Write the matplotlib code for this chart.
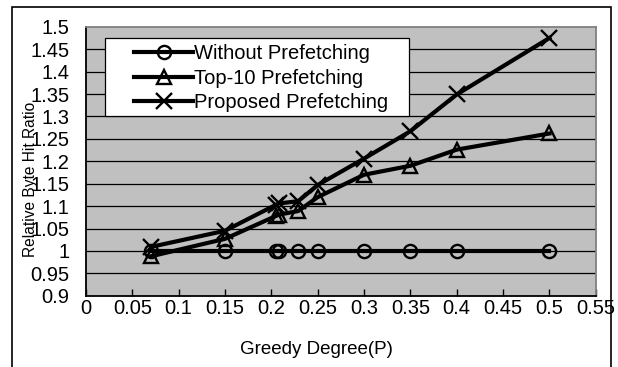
import numpy as np
import matplotlib
matplotlib.use("Agg")
import matplotlib.pyplot as plt
from matplotlib.patches import Rectangle

plt.rcParams['font.family'] = ['Liberation Sans Narrow', 'Liberation Sans', 'DejaVu Sans']

# datos
greedy = [0.07, 0.15, 0.205, 0.208, 0.229, 0.25, 0.3, 0.35, 0.4, 0.5]
without_pf = [1.0, 1.0, 1.0, 1.0, 1.0, 1.0, 1.0, 1.0, 1.0, 1.0]
top10_pf = [0.988, 1.027, 1.078, 1.081, 1.089, 1.12, 1.17, 1.19, 1.226, 1.262]
proposed_pf = [1.009, 1.045, 1.103, 1.106, 1.111, 1.147, 1.206, 1.267, 1.349, 1.475]

xticks = np.arange(0, 0.5501, 0.05)
yticks = np.arange(0.9, 1.5001, 0.05)

fig = plt.figure(figsize=(6.18, 3.67), dpi=100)
ax = fig.add_axes([0.139, 0.194, 0.825, 0.733])
ax.set_facecolor('#C0C0C0')

# borde exterior de la figura
fig.patches.append(Rectangle((12 / 618, -0.05), 599 / 618, 1.05 - 7 / 367,
                             transform=fig.transFigure, fill=False,
                             edgecolor='black', linewidth=1.2))

for yv in yticks[1:-1]:
    ax.axhline(yv, color='black', linewidth=0.9, zorder=1)

ax.plot(greedy, without_pf, color='black', linewidth=3, marker='o',
        markersize=9.5, markerfacecolor='none', markeredgewidth=1.7,
        label='Without Prefetching', zorder=3)
ax.plot(greedy, top10_pf, color='black', linewidth=3, marker='^',
        markersize=9.5, markerfacecolor='none', markeredgewidth=1.7,
        label='Top-10 Prefetching', zorder=3)
ax.plot(greedy, proposed_pf, color='black', linewidth=3, marker='x',
        markersize=12, markeredgewidth=1.7,
        label='Proposed Prefetching', zorder=3)

ax.set_xlim(0, 0.55)
ax.set_ylim(0.9, 1.5)
ax.set_xticks(xticks)
ax.set_xticklabels(['0' if v == 0 else f"{v:g}" for v in np.round(xticks, 2)])
ax.set_yticks(yticks)
ax.set_yticklabels([f"{v:g}" for v in np.round(yticks, 2)])
ax.tick_params(axis='x', direction='in', length=5, width=1, labelsize=14.5, pad=2.5)
ax.tick_params(axis='y', length=0, labelsize=14.5, pad=12)

for side in ['left', 'bottom']:
    ax.spines[side].set_color('black')
    ax.spines[side].set_linewidth(1.3)
for side in ['top', 'right']:
    ax.spines[side].set_color('#808080')
    ax.spines[side].set_linewidth(1.3)

ax.set_xlabel('Greedy Degree(P)', fontsize=13.5)
ax.xaxis.set_label_coords(0.453, -0.2)
ax.xaxis.label.set_va('center')
ax.set_ylabel('Relative Byte Hit Ratio', fontsize=11.2)
ax.yaxis.set_label_coords(-0.108, 0.434)
ax.yaxis.label.set_va('center')

# caja de la leyenda dibujada aparte
ax.add_patch(Rectangle((0.037, 0.668), 0.597, 0.29, transform=ax.transAxes,
                       facecolor='white', edgecolor='black', linewidth=0.9,
                       zorder=4))
leg = ax.legend(loc='upper left', bbox_to_anchor=(0.094, 0.936), fontsize=14.5,
                frameon=False, handlelength=2.95, handletextpad=0.05,
                borderpad=0, labelspacing=0.28, borderaxespad=0)
leg.set_zorder(5)

fig.savefig('out.png', dpi=100)
